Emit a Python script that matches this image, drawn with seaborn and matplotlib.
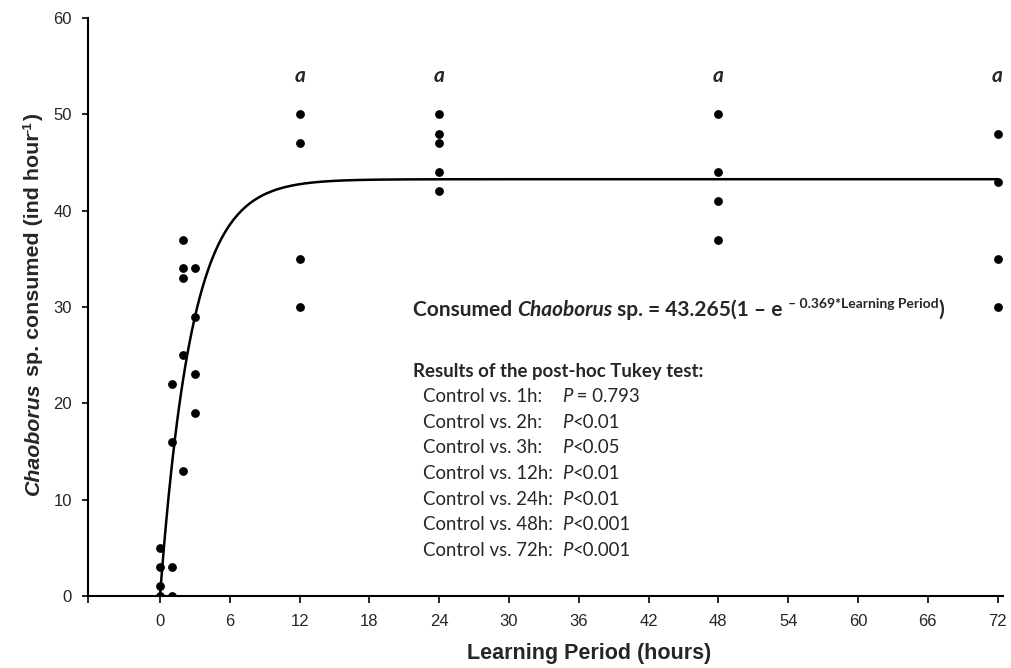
import matplotlib
matplotlib.use("Agg")
import matplotlib.pyplot as plt
import matplotlib.transforms as mtransforms
import numpy as np
import pandas as pd
import seaborn as sns

hours = [0, 0, 0, 0, 1, 1, 1, 1, 2, 2, 2, 2, 2, 3, 3, 3, 3,
         12, 12, 12, 12, 24, 24, 24, 24, 24, 48, 48, 48, 48, 72, 72, 72, 72]
consumed = [0, 1, 3, 5, 0, 3, 16, 22, 13, 25, 33, 34, 37, 19, 23, 29, 34,
            30, 35, 47, 50, 42, 44, 47, 48, 50, 37, 41, 44, 50, 30, 35, 43, 48]

# fitted model printed on the chart
fit_a = 43.265
fit_k = 0.369

letter_hours = [12, 24, 48, 72]
letter_text = ["a", "a", "a", "a"]
letter_y = 54

x_ticks = list(range(0, 73, 6))
y_ticks = list(range(0, 61, 10))

tukey_groups = ["1h", "2h", "3h", "12h", "24h", "48h", "72h"]
tukey_p = [" = 0.793", "<0.01", "<0.05", "<0.01", "<0.01", "<0.001", "<0.001"]

W, H = 1011, 668
NOTE_FONT = ["Lato", "DejaVu Sans"]

sns.set_theme(style="ticks")
plt.rcParams["font.family"] = ["Liberation Sans", "DejaVu Sans"]

fig = plt.figure(figsize=(W / 100, H / 100), dpi=100)
ax = fig.add_axes([88 / W, 72 / H, 915 / W, 578 / H])

df = pd.DataFrame({"hours": hours, "consumed": consumed})
fit_x = np.linspace(0, 72, 400)
fit_y = fit_a * (1 - np.exp(-fit_k * fit_x))

sns.lineplot(x=fit_x, y=fit_y, color="black", lw=1.8, ax=ax, zorder=2)
sns.scatterplot(data=df, x="hours", y="consumed", color="black", s=40,
                linewidth=0, ax=ax, zorder=3)

ax.set_xlim(-6.19, 72.47)
ax.set_ylim(0, 60)
ax.set_xticks(x_ticks)
ax.set_xticks([-6.19], minor=True)
ax.set_yticks(y_ticks)
ax.tick_params(axis="x", which="both", direction="out", length=5, width=1.2,
               pad=8, labelsize=12, color="black")
ax.tick_params(axis="y", direction="out", length=4.5, width=1.2, pad=7,
               labelsize=12, color="black")
for side in ["left", "bottom"]:
    ax.spines[side].set_linewidth(1.5)
    ax.spines[side].set_color("black")
sns.despine(ax=ax)

ax.set_xlabel("Learning Period (hours)", fontsize=15.5, fontweight="bold")
ax.xaxis.set_label_coords((589 - 88) / 915, -0.082)
ax.set_ylabel("")

for hx, lt in zip(letter_hours, letter_text):
    ax.text(hx, letter_y, lt, ha="center", va="center", fontsize=15,
            fontstyle="italic", fontweight="bold", family=NOTE_FONT)

renderer = fig.canvas.get_renderer()
pix = mtransforms.IdentityTransform()


def rich_text(x, y, pieces, rotation=0, **kw):
    """Draw text pieces one after another, starting at image pixel (x, y)."""
    tr = mtransforms.offset_copy(pix, fig=fig, x=x, y=H - y, units="dots")
    for s, props in pieces:
        style = dict(kw)
        style.update(props)
        dy = style.pop("dy", 0)
        if rotation:
            use = mtransforms.offset_copy(tr, fig=fig, x=-dy, units="dots")
        else:
            use = mtransforms.offset_copy(tr, fig=fig, y=dy, units="dots")
        t = fig.text(0, 0, s, transform=use, rotation=rotation,
                     rotation_mode="anchor", ha="left", va="baseline", **style)
        ext = t.get_window_extent(renderer)
        if rotation:
            tr = mtransforms.offset_copy(tr, fig=fig, y=ext.height, units="dots")
        else:
            tr = mtransforms.offset_copy(tr, fig=fig, x=ext.width, units="dots")


# y axis label with italic genus name
bold = {"fontweight": "bold"}
rich_text(39, 495, [
    ("Chaoborus", {"fontweight": "bold", "fontstyle": "italic"}),
    (" sp. consumed (ind hour", bold),
    ("-1", {"fontweight": "bold", "fontsize": 9.5, "dy": 7}),
    (")", bold),
], rotation=90, fontsize=15.4)

# model equation
rich_text(413, 316, [
    ("Consumed ", bold),
    ("Chaoborus", {"fontweight": "bold", "fontstyle": "italic"}),
    (" sp. = 43.265(1 \u2013 e ", bold),
    ("\u2013 0.369*Learning Period", {"fontweight": "bold", "fontsize": 10, "dy": 8}),
    (")", bold),
], fontsize=15, family=NOTE_FONT)

# Tukey results
rich_text(413, 377, [("Results of the post-hoc Tukey test:", bold)],
          fontsize=13.4, family=NOTE_FONT)
for i, (grp, pv) in enumerate(zip(tukey_groups, tukey_p)):
    yb = 402 + i * 25.7
    rich_text(423, yb, [(f"Control vs. {grp}:", {})], fontsize=13.4, family=NOTE_FONT)
    rich_text(562, yb, [("P", {"fontstyle": "italic"}), (pv, {})],
              fontsize=13.4, family=NOTE_FONT)

fig.savefig("out.png", dpi=100, facecolor="white")
